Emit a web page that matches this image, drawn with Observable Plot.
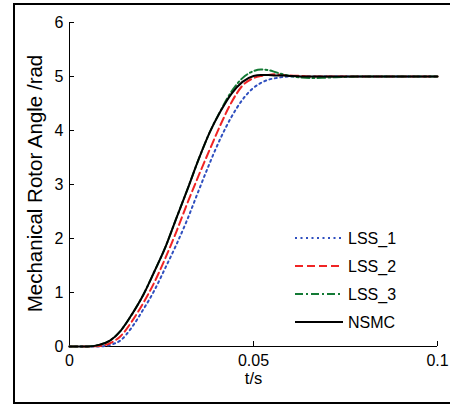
<!DOCTYPE html>
<html><head><meta charset="utf-8">
<script src="https://cdn.jsdelivr.net/npm/d3@7"></script>
<script src="https://cdn.jsdelivr.net/npm/@observablehq/plot@0.6"></script>
<style>
body{margin:0;background:#fff;}
#wrap{position:relative;width:450px;height:407px;overflow:hidden;font-family:"Liberation Sans",Arial,sans-serif;}
#frame{position:absolute;left:13px;top:3px;width:480px;height:397px;border:2px solid #000;}
#chart{position:absolute;left:0;top:0;}
#legend{position:absolute;left:0;top:0;}
</style></head><body>
<div id="wrap"><div id="frame"></div><div id="chart"></div><svg id="legend" width="450" height="407"></svg></div>
<script>
// time axis (s)
const time = [0, 0.005, 0.008, 0.011, 0.014, 0.017, 0.02, 0.023, 0.026, 0.029, 0.032, 0.035, 0.038, 0.041, 0.044, 0.047, 0.05, 0.052, 0.054, 0.056, 0.058, 0.06, 0.063, 0.066, 0.07, 0.08, 0.09, 0.1];
// mechanical rotor angle (rad)
const lss1 = [0, 0, 0, 0.03, 0.12, 0.36, 0.68, 1.03, 1.45, 1.88, 2.35, 2.87, 3.38, 3.85, 4.25, 4.57, 4.79, 4.88, 4.94, 4.97, 4.99, 5.0, 5.0, 5.0, 5.0, 5.0, 5.0, 5.0];
const lss2 = [0, 0, 0.01, 0.06, 0.2, 0.47, 0.8, 1.18, 1.63, 2.12, 2.65, 3.15, 3.63, 4.1, 4.52, 4.83, 4.97, 5.01, 5.03, 5.04, 5.03, 5.02, 5.01, 5.0, 5.0, 5.0, 5.0, 5.0];
const lss3 = [0, 0, 0.03, 0.11, 0.3, 0.6, 0.95, 1.38, 1.83, 2.37, 2.9, 3.45, 3.95, 4.36, 4.72, 4.97, 5.1, 5.13, 5.12, 5.08, 5.04, 5.01, 4.98, 4.97, 4.98, 5.0, 5.0, 5.0];
const nsmc = [0, 0, 0.03, 0.11, 0.3, 0.6, 0.95, 1.38, 1.83, 2.37, 2.9, 3.45, 3.95, 4.35, 4.68, 4.9, 5.01, 5.03, 5.03, 5.02, 5.02, 5.01, 5.0, 5.0, 5.0, 5.0, 5.0, 5.0];

const seriesNames = ["LSS_1", "LSS_2", "LSS_3", "NSMC"];
const seriesValues = [lss1, lss2, lss3, nsmc];
const seriesColors = ["#2f4fbf", "#f02424", "#137a35", "#000000"];
const seriesDash = ["2,3.5", "8,4", "8,3,2,3", null];

const xTicks = [0, 0.05, 0.1];
const yTicks = [0, 1, 2, 3, 4, 5, 6];
const xLabel = "t/s";
const yLabel = "Mechanical Rotor Angle /rad";

const font = '"Liberation Sans", Arial, sans-serif';

const rows = seriesNames.map((name, i) => time.map((t, j) => ({series: name, t, v: seriesValues[i][j]})));

const lineMarks = rows.map((data, i) => Plot.line(data, {
  x: "t", y: "v", stroke: seriesColors[i], strokeWidth: 2,
  strokeDasharray: seriesDash[i] || undefined, curve: "monotone-x"
}));

const chart = Plot.plot({
  width: 450, height: 407,
  marginLeft: 69, marginRight: 13, marginTop: 22, marginBottom: 61,
  style: {fontFamily: font, fontSize: "16px", background: "transparent", overflow: "visible"},
  x: {domain: [0, 0.1]},
  y: {domain: [0, 6]},
  marks: [
    Plot.ruleX([0], {stroke: "#000", strokeWidth: 1}),
    Plot.ruleY([0], {stroke: "#000", strokeWidth: 1}),
    Plot.axisX({ticks: xTicks, tickSize: -5, tickPadding: 13, tickFormat: d => String(d), label: null, fontSize: 16, stroke: "#000", color: "#000"}),
    Plot.axisY({ticks: yTicks, tickSize: -5, tickPadding: 11, tickFormat: d => String(d), label: null, fontSize: 16, stroke: "#000", color: "#000"}),
    ...lineMarks,
    Plot.text([xLabel], {frameAnchor: "bottom", dy: 37, fontSize: 16.5, fill: "#000"}),
    Plot.text([yLabel], {frameAnchor: "left", textAnchor: "middle", rotate: -90, dx: -34, dy: -1, fontSize: 20.5, fill: "#000"})
  ]
});
document.getElementById("chart").appendChild(chart);

// legend (no box), top-right inside axes
const leg = d3.select("#legend");
const lx0 = 295, lx1 = 343, ly0 = 238, lstep = 28;
seriesNames.forEach((name, i) => {
  const y = ly0 + i * lstep;
  leg.append("line").attr("x1", lx0).attr("x2", lx1).attr("y1", y).attr("y2", y)
    .attr("stroke", seriesColors[i]).attr("stroke-width", 2)
    .attr("stroke-dasharray", seriesDash[i]);
  leg.append("text").attr("x", lx1 + 5).attr("y", y).attr("dy", "0.36em")
    .attr("font-family", font).attr("font-size", 16).attr("fill", "#000").text(name);
});
</script>
</body></html>
